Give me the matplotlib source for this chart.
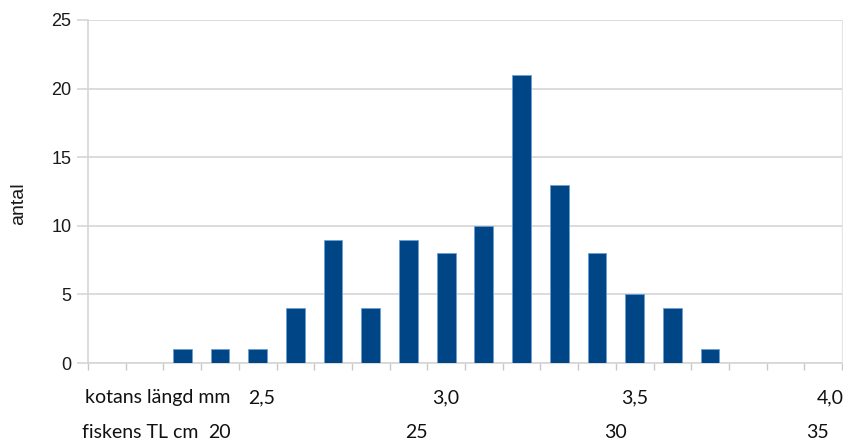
import matplotlib
matplotlib.use("Agg")
import matplotlib.pyplot as plt
import matplotlib.transforms as mtransforms

# Data
categories = [2.1, 2.2, 2.3, 2.4, 2.5, 2.6, 2.7, 2.8, 2.9, 3.0,
              3.1, 3.2, 3.3, 3.4, 3.5, 3.6, 3.7, 3.8, 3.9, 4.0]
counts = [0, 0, 1, 1, 1, 4, 9, 4, 9, 8, 10, 21, 13, 8, 5, 4, 1, 0, 0, 0]
yticks = [0, 5, 10, 15, 20, 25]
kotan_labels = ["2,5", "3,0", "3,5", "4,0"]
kotan_pos = [2.51, 3.0, 3.5, 4.02]
fisk_labels = ["20", "25", "30", "35"]
fisk_pos_in_kotan = [2.40, 2.92, 3.45, 3.985]

BAR = "#004586"
GRID = "#d6d6d6"

fig = plt.figure(figsize=(8.43, 4.41), dpi=100)
ax = fig.add_axes([88 / 843, 1 - 363 / 441, (842 - 88) / 843, (363 - 20) / 441])

idx = list(range(len(categories)))
ax.bar(idx, counts, width=0.5, color=BAR, edgecolor="#6a9fd4", linewidth=0.6, zorder=3)

ax.set_xlim(-0.5, len(categories) - 0.5)
ax.set_ylim(0, 25)
ax.set_yticks(yticks)
ax.set_yticklabels([str(v) for v in yticks], fontfamily="Liberation Sans", fontsize=13, color="#1a1a1a")
ax.yaxis.grid(True, color=GRID, linewidth=1.2, zorder=0)
ax.tick_params(axis="y", length=8, color=GRID, width=1.2, pad=4)

# category boundary ticks
ax.set_xticks([i - 0.5 for i in range(len(categories) + 1)])
ax.set_xticklabels([])
ax.tick_params(axis="x", length=5, color="#c8c8c8", width=1.0)

ax.spines["top"].set_visible(False)
ax.spines["bottom"].set_color(GRID)
ax.spines["bottom"].set_linewidth(1.2)
ax.spines["left"].set_color(GRID)
ax.spines["left"].set_linewidth(1.2)
ax.spines["right"].set_color("#e6e6e6")
ax.spines["right"].set_linewidth(1.0)

fig.text(19 / 843, 1 - 204 / 441, "antal", rotation=90, fontfamily="Liberation Sans",
         fontsize=14, color="#1a1a1a", ha="center", va="center")

trans = mtransforms.blended_transform_factory(ax.transData, fig.transFigure)
def to_idx(v):
    return (v - categories[0]) / 0.1

FS = 14
y1 = 1 - 398 / 441
y2 = 1 - 433 / 441
fig.text(85 / 843, y1, "kotans längd mm", fontfamily="Lato", fontsize=FS, ha="left", va="center", color="#111111")
fig.text(82 / 843, y2, "fiskens TL cm", fontfamily="Lato", fontsize=FS, ha="left", va="center", color="#111111")
for lab, v in zip(kotan_labels, kotan_pos):
    ax.text(to_idx(v), y1, lab, transform=trans, fontfamily="Lato", fontsize=FS, ha="center", va="center", color="#111111")
for lab, v in zip(fisk_labels, fisk_pos_in_kotan):
    ax.text(to_idx(v), y2, lab, transform=trans, fontfamily="Lato", fontsize=FS, ha="center", va="center", color="#111111")

fig.savefig("out.png", dpi=100)
